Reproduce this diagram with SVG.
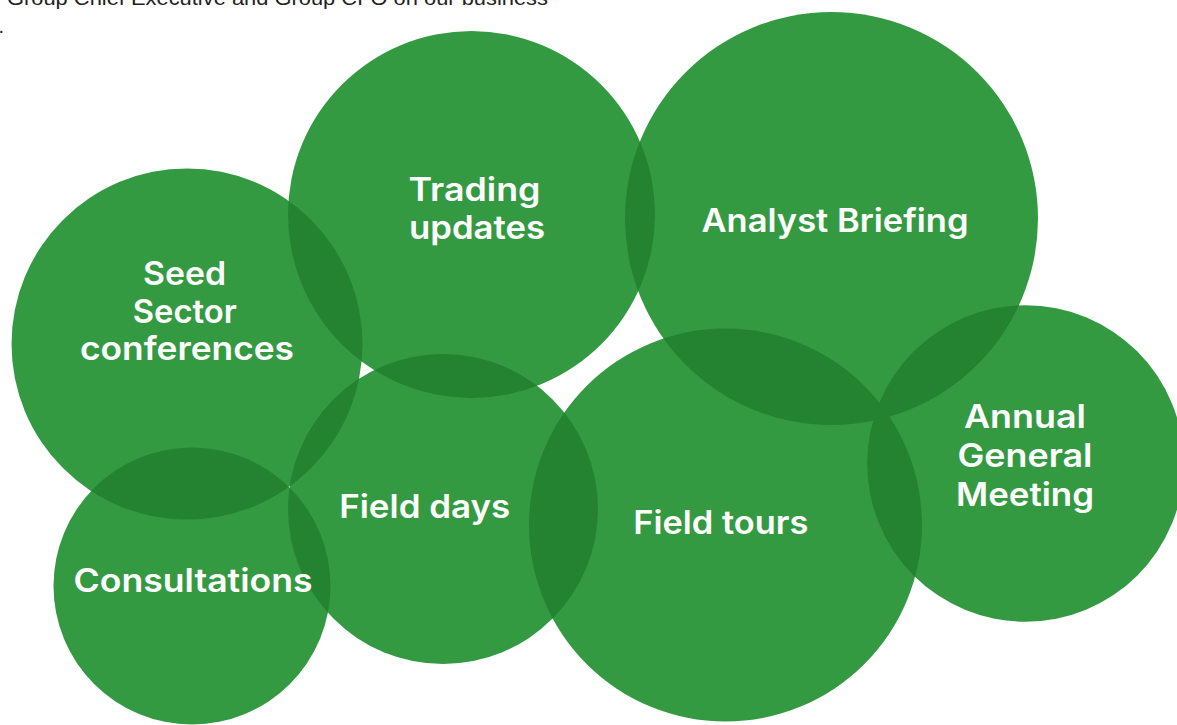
<svg xmlns="http://www.w3.org/2000/svg" width="1177" height="725" viewBox="0 0 1177 725">
<style>
.disc{fill:#349a42}
.lens{fill:#238330}
.lbl{font-family:Inter,"Open Sans","Liberation Sans",sans-serif;font-weight:600;font-size:32px;fill:#ffffff;text-anchor:middle}
.top{font-family:"Liberation Sans",Arial,sans-serif;font-size:20px;fill:#222222}
</style>
<defs>
<clipPath id="k-seed"><circle cx="187" cy="344" r="175.5"/></clipPath>
<clipPath id="k-trading"><circle cx="471.5" cy="214.5" r="183.5"/></clipPath>
<clipPath id="k-analyst"><circle cx="831.5" cy="218.5" r="206.5"/></clipPath>
<clipPath id="k-annual"><circle cx="1025.5" cy="463.5" r="158.3"/></clipPath>
<clipPath id="k-tours"><circle cx="725.5" cy="525" r="196.5"/></clipPath>
<clipPath id="k-days"><circle cx="443" cy="509" r="155"/></clipPath>
</defs>
<rect width="1177" height="725" fill="#ffffff"/>
<text class="top" x="7" y="5" textLength="541" lengthAdjust="spacingAndGlyphs">Group Chief Executive and Group CFO on our business</text>
<text class="top" x="-1.5" y="33">.</text>

<g id="node-seed">
<circle class="disc" cx="187" cy="344" r="175.5"/>
<text class="lbl"><tspan x="184.5" y="285" textLength="83" lengthAdjust="spacingAndGlyphs">Seed</tspan><tspan x="184.7" y="322.7" textLength="104" lengthAdjust="spacingAndGlyphs">Sector</tspan><tspan x="187" y="360" textLength="214" lengthAdjust="spacingAndGlyphs">conferences</tspan></text>
</g>

<g id="node-trading">
<circle class="disc" cx="471.5" cy="214.5" r="183.5"/>
<circle class="lens" cx="471.5" cy="214.5" r="183.5" clip-path="url(#k-seed)"/>
<text class="lbl"><tspan x="474.5" y="200.5" textLength="132" lengthAdjust="spacingAndGlyphs">Trading</tspan><tspan x="477" y="238.5" textLength="136" lengthAdjust="spacingAndGlyphs">updates</tspan></text>
</g>

<g id="node-analyst">
<circle class="disc" cx="831.5" cy="218.5" r="206.5"/>
<circle class="lens" cx="831.5" cy="218.5" r="206.5" clip-path="url(#k-trading)"/>
<text class="lbl" x="835" y="231.7" textLength="267" lengthAdjust="spacingAndGlyphs">Analyst Briefing</text>
</g>

<g id="node-annual">
<circle class="disc" cx="1025.5" cy="463.5" r="158.3"/>
<circle class="lens" cx="1025.5" cy="463.5" r="158.3" clip-path="url(#k-analyst)"/>
<text class="lbl"><tspan x="1025" y="428.3" textLength="122" lengthAdjust="spacingAndGlyphs">Annual</tspan><tspan x="1025" y="466.7" textLength="135" lengthAdjust="spacingAndGlyphs">General</tspan><tspan x="1025" y="506" textLength="138" lengthAdjust="spacingAndGlyphs">Meeting</tspan></text>
</g>

<g id="node-tours">
<circle class="disc" cx="725.5" cy="525" r="196.5"/>
<circle class="lens" cx="725.5" cy="525" r="196.5" clip-path="url(#k-analyst)"/>
<circle class="lens" cx="725.5" cy="525" r="196.5" clip-path="url(#k-annual)"/>
<text class="lbl" x="720.8" y="534.3" textLength="175" lengthAdjust="spacingAndGlyphs">Field tours</text>
</g>

<g id="node-days">
<circle class="disc" cx="443" cy="509" r="155"/>
<circle class="lens" cx="443" cy="509" r="155" clip-path="url(#k-seed)"/>
<circle class="lens" cx="443" cy="509" r="155" clip-path="url(#k-trading)"/>
<circle class="lens" cx="443" cy="509" r="155" clip-path="url(#k-tours)"/>
<text class="lbl" x="424.7" y="518.3" textLength="171" lengthAdjust="spacingAndGlyphs">Field days</text>
</g>

<g id="node-consultations">
<circle class="disc" cx="192" cy="586" r="138.5"/>
<circle class="lens" cx="192" cy="586" r="138.5" clip-path="url(#k-seed)"/>
<circle class="lens" cx="192" cy="586" r="138.5" clip-path="url(#k-days)"/>
<text class="lbl" x="193" y="592.3" textLength="239" lengthAdjust="spacingAndGlyphs">Consultations</text>
</g>

<g id="connectors"/>
</svg>
